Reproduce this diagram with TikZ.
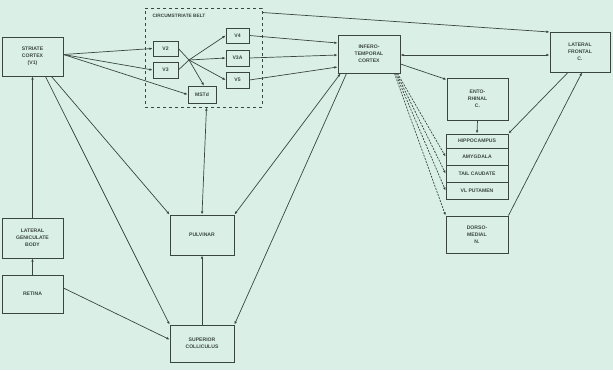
\documentclass[tikz,border=0pt]{standalone}
\usepackage{fontspec}
\setmainfont{Liberation Sans}
\usetikzlibrary{arrows.meta,calc}
\definecolor{bgc}{RGB}{218,240,231}
\definecolor{ink}{RGB}{58,70,64}
\begin{document}
\begin{tikzpicture}[x=1pt,y=-1pt,
  every node/.style={font=\fontsize{5.1}{7}\selectfont\bfseries, text=ink},
  box/.style={draw=ink, line width=0.9pt, rectangle, align=center, inner sep=0pt},
  conn/.style={draw=ink, line width=0.7pt, -{Latex[length=3.2pt,width=2.6pt]}},
  bconn/.style={draw=ink, line width=0.7pt, {Latex[length=3.2pt,width=2.6pt]}-{Latex[length=3.2pt,width=2.6pt]}},
  plain/.style={draw=ink, line width=0.7pt},
  dconn/.style={draw=ink, line width=0.7pt, dashed, dash pattern=on 2pt off 1.2pt, -{Latex[length=3.2pt,width=2.6pt]}}]
\fill[bgc] (0,0) rectangle (613,370);
\useasboundingbox (0,0) rectangle (613,370);

% left column
\node[box, minimum width=61pt, minimum height=39pt] (v1) at (32.5,56.5) {STRIATE\\CORTEX\\(V1)};
\node[box, minimum width=61pt, minimum height=40pt] (lgb) at (32.5,238) {LATERAL\\GENICULATE\\BODY};
\node[box, minimum width=61pt, minimum height=38pt] (retina) at (32.5,294) {RETINA};

% circumstriate belt
\node[draw=ink, dashed, line width=0.7pt, rectangle, minimum width=117pt, minimum height=99pt, inner sep=0pt] (belt) at (203.5,57.5) {};
\node[anchor=north west, font=\fontsize{4.8}{5}\selectfont\bfseries] (beltlbl) at (149,11) {CIRCUMSTRIATE BELT};
\node[box, line width=0.7pt, minimum width=25pt, minimum height=15pt] (v2) at (165.5,48.5) {V2};
\node[box, line width=0.7pt, minimum width=25pt, minimum height=16pt] (v3) at (165.5,70) {V3};
\node[box, line width=0.7pt, minimum width=23pt, minimum height=15pt] (v4) at (237.5,35.5) {V4};
\node[box, line width=0.7pt, minimum width=23pt, minimum height=16pt] (v3a) at (237.5,58) {V3A};
\node[box, line width=0.7pt, minimum width=23pt, minimum height=16pt] (v5) at (237.5,80) {V5};
\node[box, line width=0.7pt, minimum width=28pt, minimum height=17pt] (mst) at (202,94.5) {MSTd};
\coordinate (J) at (189,60);

% thalamus / midbrain
\node[box, minimum width=64pt, minimum height=40pt] (pulv) at (202,235) {PULVINAR};
\node[box, minimum width=64pt, minimum height=37pt] (sc) at (202,343.5) {SUPERIOR\\COLLICULUS};

% temporal / frontal
\node[box, minimum width=62pt, minimum height=38pt] (it) at (369,54) {INFERO-\\TEMPORAL\\CORTEX};
\node[box, minimum width=60pt, minimum height=40pt] (lf) at (580,52) {LATERAL\\FRONTAL\\C.};
\node[box, minimum width=61pt, minimum height=42pt] (ento) at (477.5,99) {ENTO-\\RHINAL\\C.};
\node[box, minimum width=62pt, minimum height=14pt] (hippo) at (477,141) {HIPPOCAMPUS};
\node[box, minimum width=62pt, minimum height=17pt] (amyg) at (477,156.5) {AMYGDALA};
\node[box, minimum width=62pt, minimum height=17pt] (caud) at (477,173.5) {TAIL CAUDATE};
\node[box, minimum width=62pt, minimum height=17pt] (put) at (477,190.5) {VL PUTAMEN};
\node[box, minimum width=62pt, minimum height=37pt] (dm) at (477,234.5) {DORSO-\\MEDIAL\\N.};

% retina / LGB / V1
\draw[conn] (lgb.north) -- (v1.south);
\draw[conn] (retina.north) -- (lgb.south);
\draw[conn] ([yshift=6pt]retina.east) -- ([yshift=4pt]sc.west);

% V1 outputs
\draw[conn] ([yshift=2pt]v1.east) -- (v2.west);
\draw[conn] ([yshift=2pt]v1.east) -- (v3.west);
\draw[conn] ([yshift=2pt]v1.east) -- (mst.west);
\draw[conn] ([xshift=-12pt]v1.south east) -- (pulv.north west);
\draw[conn] ([xshift=-18pt]v1.south east) -- (sc.north west);

% belt internal
\draw[plain] (v2.east) -- (J);
\draw[plain] (v3.east) -- (J);
\draw[conn] (J) -- (v4.west);
\draw[conn] (J) -- (v3a.west);
\draw[conn] (J) -- (v5.west);
\draw[conn] (J) -- ([xshift=2pt]mst.north);

% to IT
\draw[conn] (v4.east) -- ([yshift=11pt]it.west);
\draw[conn] (v3a.east) -- ([yshift=-1pt]it.west);
\draw[conn] (v5.east) -- ([yshift=-13pt]it.west);
\draw[conn] ([yshift=45pt]belt.east) -- ([yshift=20pt]lf.west);
\draw[bconn] ([yshift=-1pt]it.east) -- ([yshift=-3pt]lf.west);

% pulvinar and colliculus
\draw[bconn] ([xshift=3pt]belt.south) -- (pulv.north);
\draw[bconn] ([xshift=3pt]it.south west) -- (pulv.north east);
\draw[conn] ([xshift=9pt]it.south west) -- (sc.north east);
\draw[conn] (sc.north) -- (pulv.south);

% IT to limbic / striatal
\draw[conn] ([yshift=-10pt]it.east) -- ([yshift=-2pt]ento.north west);
\draw[conn] (ento.south) -- (hippo.north);
\draw[dconn] ([xshift=-3pt]it.south east) -- (amyg.west);
\draw[dconn] ([xshift=-4pt]it.south east) -- (caud.west);
\draw[dconn] ([xshift=-5pt]it.south east) -- (put.west);
\draw[dconn] ([xshift=-6pt]it.south east) -- (dm.north west);

% lateral frontal
\draw[conn] ([xshift=-12pt]lf.south) -- (hippo.north east);
\draw[conn] (dm.north east) -- ([xshift=2pt]lf.south);
\end{tikzpicture}
\end{document}
